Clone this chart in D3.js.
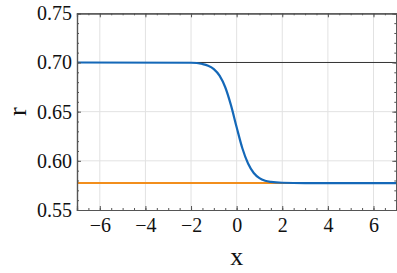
<!DOCTYPE html>
<html>
<head>
<meta charset="utf-8">
<script src="https://cdn.jsdelivr.net/npm/d3@7/dist/d3.min.js"></script>
<style>
html,body{margin:0;padding:0;background:#fff;}
svg{display:block;}
</style>
</head>
<body>
<svg id="chart" width="397" height="273"></svg>
<script>
// Data
const curveX = [-7, -2, -1.5, -1.25, -1, -0.75, -0.5, -0.25, 0, 0.25, 0.5, 0.75, 1, 1.25, 1.5, 2, 3, 7];
const curveR = [0.7000, 0.6997, 0.6984, 0.6967, 0.6933, 0.6866, 0.6748, 0.6566, 0.6341, 0.6128, 0.5972, 0.5876, 0.5824, 0.5798, 0.5786, 0.5777, 0.5774, 0.5774];
const upperX = [-7, 7];
const upperR = [0.70, 0.70];
const lowerX = [-7, 7];
const lowerR = [0.5774, 0.5774];
const xTicks = [-6, -4, -2, 0, 2, 4, 6];
const yTicks = [0.55, 0.60, 0.65, 0.70, 0.75];
const xLabel = "x";
const yLabel = "r";

const svg = d3.select("#chart");
const x = d3.scaleLinear().domain([-7, 7]).range([77, 396.3]);
const y = d3.scaleLinear().domain([0.55, 0.75]).range([210, 13.3]);
const x0 = x.range()[0], x1 = x.range()[1], y0 = y.range()[0], y1 = y.range()[1];

// grid
const grid = svg.append("g");
grid.selectAll("line.gx").data(xTicks).enter().append("line")
  .attr("x1", d => x(d)).attr("x2", d => x(d)).attr("y1", y1).attr("y2", y0)
  .attr("stroke", "#e2e2e2").attr("stroke-width", 1);
grid.selectAll("line.gy").data(yTicks.slice(1, -1)).enter().append("line")
  .attr("x1", x0).attr("x2", x1).attr("y1", d => y(d)).attr("y2", d => y(d))
  .attr("stroke", "#e2e2e2").attr("stroke-width", 1);

const line = d3.line().x(d => x(d[0])).y(d => y(d[1]));

// lines
svg.append("path").datum(d3.zip(upperX, upperR)).attr("d", line)
  .attr("fill", "none").attr("stroke", "#333").attr("stroke-width", 1);
svg.append("path").datum(d3.zip(lowerX, lowerR)).attr("d", line)
  .attr("fill", "none").attr("stroke", "#f28e1c").attr("stroke-width", 2);
svg.append("path").datum(d3.zip(curveX, curveR)).attr("d", line.curve(d3.curveMonotoneX))
  .attr("fill", "none").attr("stroke", "#1468b8").attr("stroke-width", 2.2);

// axes with inward ticks
const fontFam = "'Liberation Serif', 'DejaVu Serif', serif";
const xMinor = d3.range(-7, 7.01, 0.5);
const yMinor = d3.range(0.55, 0.7501, 0.01);

const axB = svg.append("g").attr("transform", `translate(0,${y0})`)
  .call(d3.axisBottom(x).tickValues(xTicks).tickSize(-4).tickPadding(8)
    .tickFormat(d => d < 0 ? "\u2212" + Math.abs(d) : d));
const axT = svg.append("g").attr("transform", `translate(0,${y1})`)
  .call(d3.axisTop(x).tickValues(xTicks).tickSize(-4).tickFormat(""));
const axL = svg.append("g").attr("transform", `translate(${x0},0)`)
  .call(d3.axisLeft(y).tickValues(yTicks).tickSize(-4).tickPadding(5).tickFormat(d3.format(".2f")));
const axR = svg.append("g").attr("transform", `translate(${x1},0)`)
  .call(d3.axisRight(y).tickValues(yTicks).tickSize(-4).tickFormat(""));
const axBm = svg.append("g").attr("transform", `translate(0,${y0})`)
  .call(d3.axisBottom(x).tickValues(xMinor).tickSize(-2).tickFormat(""));
const axTm = svg.append("g").attr("transform", `translate(0,${y1})`)
  .call(d3.axisTop(x).tickValues(xMinor).tickSize(-2).tickFormat(""));
const axLm = svg.append("g").attr("transform", `translate(${x0},0)`)
  .call(d3.axisLeft(y).tickValues(yMinor).tickSize(-2).tickFormat(""));
const axRm = svg.append("g").attr("transform", `translate(${x1},0)`)
  .call(d3.axisRight(y).tickValues(yMinor).tickSize(-2).tickFormat(""));

[axB, axT, axL, axR, axBm, axTm, axLm, axRm].forEach(a => {
  a.attr("font-family", fontFam).attr("font-size", 20);
  a.select(".domain").attr("stroke", "#555").attr("stroke-width", 1.2);
  a.selectAll(".tick line").attr("stroke", "#555");
  a.selectAll("text").attr("fill", "#111");
});

// axis labels
svg.append("text").attr("x", x(0)).attr("y", 265).attr("text-anchor", "middle")
  .attr("font-family", fontFam).attr("font-size", 26).attr("fill", "#111").text(xLabel);
svg.append("text").attr("transform", `translate(26,${(y0 + y1) / 2}) rotate(-90)`)
  .attr("text-anchor", "middle")
  .attr("font-family", fontFam).attr("font-size", 26).attr("fill", "#111").text(yLabel);
</script>
</body>
</html>
